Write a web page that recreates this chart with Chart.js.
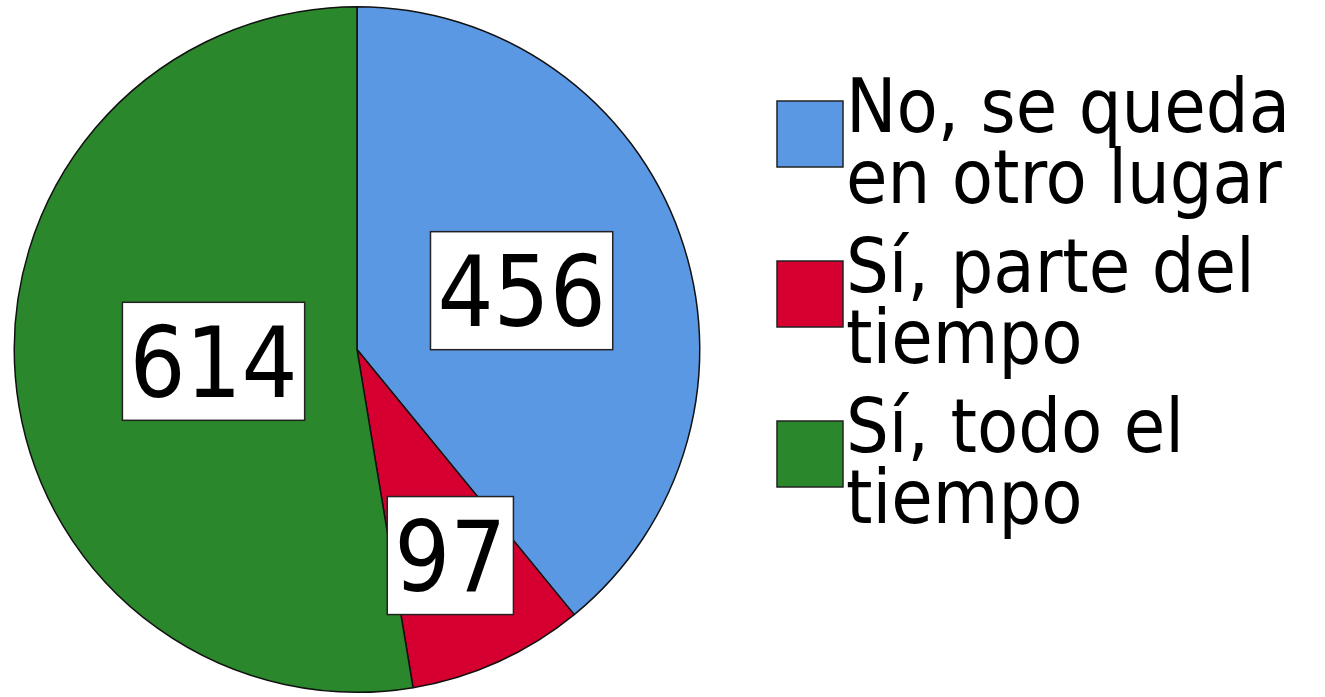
<!DOCTYPE html>
<html>
<head>
<meta charset="utf-8">
<script src="https://cdn.jsdelivr.net/npm/chart.js@4/dist/chart.umd.min.js"></script>
<style>
  body { margin: 0; background: #fff; }
  canvas { display: block; }
</style>
</head>
<body>
<canvas id="pieChart" width="1325" height="697"></canvas>
<script>
// categories (legend text, already broken into lines) and counts
var categories = [
    ['No, se queda', 'en otro lugar'],
    ['Sí, parte del', 'tiempo'],
    ['Sí, todo el', 'tiempo']
];
var counts = [456, 97, 614];
var colors = ['#5b98e4', '#d5002f', '#2b872b'];

var FONT = '"DejaVu Sans Condensed", "DejaVu Sans", sans-serif';

// value boxes inside the slices, placed at a fraction of the radius
var labelRadius = [0.51, 0.66, 0.42];

var valueLabels = {
    id: 'valueLabels',
    afterDatasetsDraw: function (chart) {
        var ctx = chart.ctx;
        var meta = chart.getDatasetMeta(0);
        var fs = 98;
        ctx.save();
        ctx.font = fs + 'px ' + FONT;
        meta.data.forEach(function (arc, i) {
            var mid = (arc.startAngle + arc.endAngle) / 2;
            var r = arc.outerRadius * labelRadius[i];
            var cx = arc.x + Math.cos(mid) * r;
            var cy = arc.y + Math.sin(mid) * r;
            var txt = String(counts[i]);
            var w = ctx.measureText(txt).width + 14;
            var h = 118;
            ctx.fillStyle = '#ffffff';
            ctx.fillRect(cx - w / 2, cy - h / 2, w, h);
            ctx.lineWidth = 1.5;
            ctx.strokeStyle = '#222';
            ctx.strokeRect(cx - w / 2, cy - h / 2, w, h);
            ctx.fillStyle = '#000';
            ctx.textAlign = 'center';
            ctx.textBaseline = 'alphabetic';
            ctx.fillText(txt, cx, cy + fs * 0.729 / 2);
        });
        ctx.restore();
    }
};

// legend on the right with wrapped labels
var sideLegend = {
    id: 'sideLegend',
    afterDraw: function (chart) {
        var ctx = chart.ctx;
        ctx.save();
        ctx.font = '75px ' + FONT;
        ctx.textAlign = 'left';
        ctx.textBaseline = 'alphabetic';
        categories.forEach(function (lines, i) {
            var base = 132 + i * 160;
            ctx.fillStyle = colors[i];
            ctx.fillRect(777, base - 31, 66, 66);
            ctx.lineWidth = 1.5;
            ctx.strokeStyle = '#222';
            ctx.strokeRect(777, base - 31, 66, 66);
            ctx.fillStyle = '#000';
            lines.forEach(function (line, j) {
                ctx.fillText(line, 846, base + j * 71);
            });
        });
        ctx.restore();
    }
};

var ctx1 = document.getElementById('pieChart').getContext('2d');
var pieChart = new Chart(ctx1, {
    type: 'pie',
    data: {
        labels: categories.map(function (l) { return l.join(' '); }),
        datasets: [{
            data: counts,
            backgroundColor: colors,
            borderColor: '#111',
            borderWidth: 1.5
        }]
    },
    options: {
        responsive: false,
        animation: false,
        layout: {
            padding: { left: 11, right: 622, top: 6, bottom: 4 }
        },
        plugins: {
            legend: { display: false },
            tooltip: { enabled: false }
        }
    },
    plugins: [valueLabels, sideLegend]
});
</script>
</body>
</html>
